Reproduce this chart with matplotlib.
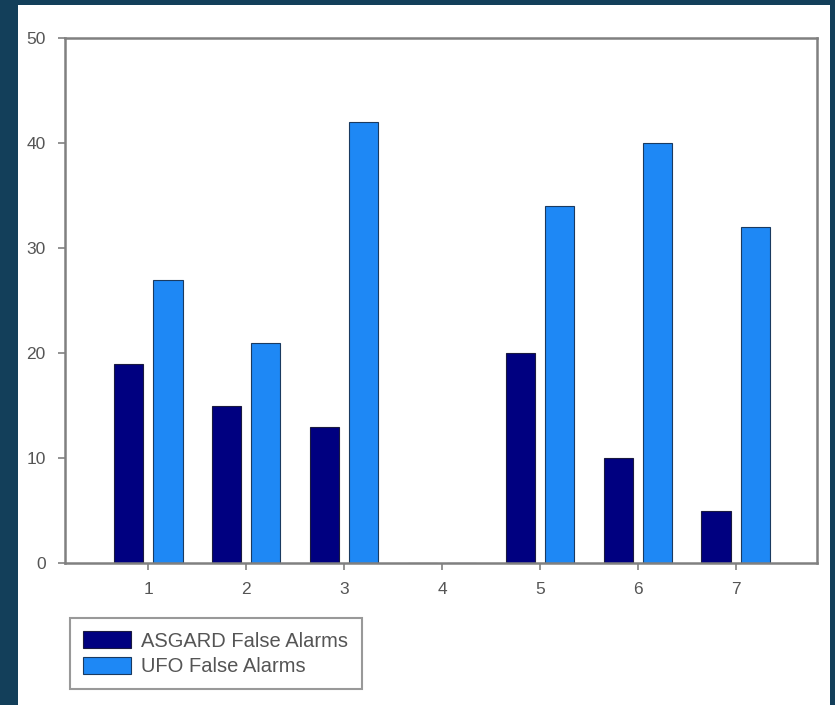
import numpy as np
import matplotlib.pyplot as plt
from matplotlib.patches import Rectangle

plt.rcParams['font.family'] = ['Liberation Sans', 'DejaVu Sans']

# data
groups = [1, 2, 3, 4, 5, 6, 7]
asgard = [19, 15, 13, 0, 20, 10, 5]
ufo = [27, 21, 42, 0, 34, 40, 32]

W, H = 835, 705
fig = plt.figure(figsize=(W / 100, H / 100), dpi=100)
fig.patch.set_facecolor('#133f5a')
# white panel inside the dark frame
fig.add_artist(Rectangle((18 / W, 0), (830 - 18) / W, (700) / H,
                         transform=fig.transFigure, facecolor='white',
                         edgecolor='none', zorder=0))

ax = fig.add_axes([65 / W, (H - 563) / H, (817 - 65) / W, (563 - 38) / H])
x = np.array(groups)
w = 0.3
ax.bar(x - 0.2, asgard, w, color='#000080', edgecolor='#1a1a40', linewidth=0.8,
       label='ASGARD False Alarms')
ax.bar(x + 0.2, ufo, w, color='#1e88f5', edgecolor='#1a3a60', linewidth=0.8,
       label='UFO False Alarms')

ax.set_xlim(0.15, 7.83)
ax.set_ylim(0, 50)
ax.set_xticks(x)
ax.set_yticks([0, 10, 20, 30, 40, 50])
for s in ax.spines.values():
    s.set_color('#808080')
    s.set_linewidth(1.8)
ax.tick_params(colors='#808080', labelcolor='#555555', labelsize=12.5,
               length=5, width=1.2)
ax.tick_params(axis='x', pad=9)
ax.tick_params(axis='y', pad=9)

leg = fig.legend(loc='upper left', bbox_to_anchor=(70 / W, (H - 618) / H),
                 bbox_transform=fig.transFigure, fontsize=14.5, frameon=True,
                 fancybox=False, handlelength=2.4, handleheight=0.95,
                 labelspacing=0.3, borderpad=0.65, handletextpad=0.5,
                 borderaxespad=0)
leg.get_frame().set_edgecolor('#808080')
leg.get_frame().set_linewidth(1.5)
for t in leg.get_texts():
    t.set_color('#555555')

fig.savefig('out.png', dpi=100, facecolor=fig.get_facecolor())
